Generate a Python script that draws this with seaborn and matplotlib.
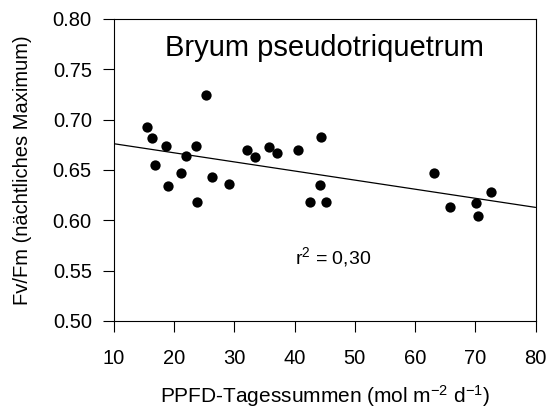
import numpy as np
import pandas as pd
import matplotlib
matplotlib.use("Agg")
import matplotlib.pyplot as plt
import seaborn as sns

# Daily PPFD sums and night-time maximum Fv/Fm
ppfd = [25.3, 15.4, 16.3, 18.6, 23.7, 22.0, 16.8, 21.2, 26.2, 18.9, 29.1, 23.8,
        32.1, 33.4, 35.8, 37.1, 40.5, 44.3, 44.2, 42.6, 45.2,
        63.1, 65.8, 70.1, 70.5, 72.6]
fvfm = [0.725, 0.693, 0.682, 0.674, 0.674, 0.664, 0.655, 0.647, 0.643, 0.634, 0.636, 0.618,
        0.670, 0.663, 0.673, 0.667, 0.670, 0.683, 0.635, 0.618, 0.618,
        0.647, 0.613, 0.617, 0.604, 0.628]

x_ticks = [10, 20, 30, 40, 50, 60, 70, 80]
y_ticks = [0.50, 0.55, 0.60, 0.65, 0.70, 0.75, 0.80]
species = "Bryum pseudotriquetrum"
r2_text = "r$^2$ = 0,30"

df = pd.DataFrame({"ppfd": ppfd, "fvfm": fvfm})

sns.set_theme(style="ticks")
plt.rcParams["font.family"] = ["Liberation Sans", "DejaVu Sans"]
plt.rcParams["mathtext.fontset"] = "custom"
plt.rcParams["mathtext.rm"] = "Liberation Sans"
plt.rcParams["mathtext.it"] = "Liberation Sans:italic"
plt.rcParams["mathtext.bf"] = "Liberation Sans:bold"
plt.rcParams["text.color"] = "black"
plt.rcParams["axes.labelcolor"] = "black"
plt.rcParams["xtick.color"] = "black"
plt.rcParams["ytick.color"] = "black"

fig = plt.figure(figsize=(5.51, 4.09), dpi=100)
ax = fig.add_axes([114 / 551, 1 - 321 / 409, (535.5 - 114) / 551, (321 - 19) / 409])
ax.set_xlim(10, 80)
ax.set_ylim(0.50, 0.80)

sns.regplot(data=df, x="ppfd", y="fvfm", ax=ax, ci=None, truncate=False,
            scatter_kws=dict(s=55, color="black", linewidths=0, alpha=1),
            line_kws=dict(color="black", linewidth=0.9))

ax.set_xticks(x_ticks)
ax.set_yticks(y_ticks)
ax.set_xticklabels([str(t) for t in x_ticks])
ax.set_yticklabels([f"{t:.2f}" for t in y_ticks])
ax.tick_params(axis="both", direction="out", length=8, width=0.8, colors="black",
               labelsize=14.5)
ax.tick_params(axis="x", pad=12)
ax.tick_params(axis="y", pad=8)
for s in ax.spines.values():
    s.set_visible(True)
    s.set_linewidth(0.8)
    s.set_color("black")

ax.set_xlabel("PPFD-Tagessummen (mol m$^{-2}$ d$^{-1}$)", fontsize=15, labelpad=11,
              color="black")
ax.set_ylabel("Fv/Fm (nächtliches Maximum)", fontsize=14.5, labelpad=15, color="black")

ax.text(44.9, 0.7632, species, ha="center", va="baseline", fontsize=21, color="black")
ax.text(46.4, 0.557, r2_text, ha="center", va="baseline", fontsize=14, color="black")

fig.savefig("out.png", dpi=100, facecolor="white")
